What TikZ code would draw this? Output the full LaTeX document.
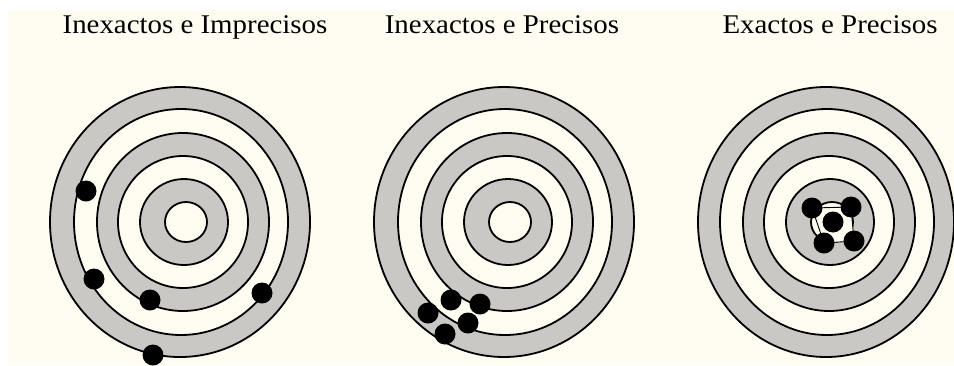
\documentclass[tikz,border=0pt]{standalone}
\usepackage{fontspec}
\setmainfont{Liberation Serif}
\definecolor{cream}{RGB}{255,253,242}
\definecolor{ringgray}{RGB}{201,200,197}
\tikzset{
  ringline/.style={draw=black, line width=1.8pt},
  dot/.style={circle, fill=black, inner sep=0pt, minimum size=21pt},
  title/.style={anchor=base, inner sep=0pt, font=\fontsize{27}{30}\selectfont},
}
\newcommand\mytarget[2]{%
  \begin{scope}[xshift=#1pt]
    \fill[ringgray, ringline] (180,222) ellipse [x radius=#2, y radius=135];
    \fill[cream, ringline] (181,222) ellipse [x radius=107, y radius=113];
    \fill[ringgray, ringline] (183,222) ellipse [x radius=86, y radius=89];
    \fill[cream, ringline] (183,222) ellipse [x radius=65, y radius=66];
    \fill[ringgray, ringline] (184,222) ellipse [x radius=44, y radius=43];
    \fill[cream, ringline] (186,222) ellipse [x radius=21, y radius=20];
  \end{scope}}
\begin{document}
\begin{tikzpicture}[x=1pt, y=-1pt]
\useasboundingbox (0,0) rectangle (954,365);
\fill[white] (0,0) rectangle (954,365);
\fill[cream] (8,10) rectangle (954,365);
% titles
\node[title] (t1) at (195,33) {\scalebox{1.07}[1]{Inexactos e Imprecisos}};
\node[title] (t2) at (502,33) {\scalebox{1.07}[1]{Inexactos e Precisos}};
\node[title] (t3) at (830,33) {\scalebox{1.07}[1]{Exactos e Precisos}};
% targets
\mytarget{0}{130}
\mytarget{324}{130}
\mytarget{646}{128}
% target 1 shots
\node[dot] (a1) at (86,191) {};
\node[dot] (a2) at (94,279) {};
\node[dot] (a3) at (150,300) {};
\node[dot] (a4) at (262,293) {};
\node[dot] (a5) at (153,355) {};
% target 2 shots
\node[dot] (b1) at (428,313) {};
\node[dot] (b2) at (451,300) {};
\node[dot] (b3) at (480,304) {};
\node[dot] (b4) at (468,323) {};
\node[dot] (b5) at (445,334) {};
% target 3 shots
\coordinate (q1) at (812,208);
\coordinate (q2) at (851,207);
\coordinate (q3) at (854,241);
\coordinate (q4) at (824,243);
\filldraw[fill=cream, draw=black, line width=0.9pt] (q1) -- (q2) -- (q3) -- (q4) -- cycle;
\node[dot] (c1) at (q1) {};
\node[dot] (c2) at (q2) {};
\node[dot] (c3) at (833,222) {};
\node[dot] (c4) at (q4) {};
\node[dot] (c5) at (q3) {};
\end{tikzpicture}
\end{document}
